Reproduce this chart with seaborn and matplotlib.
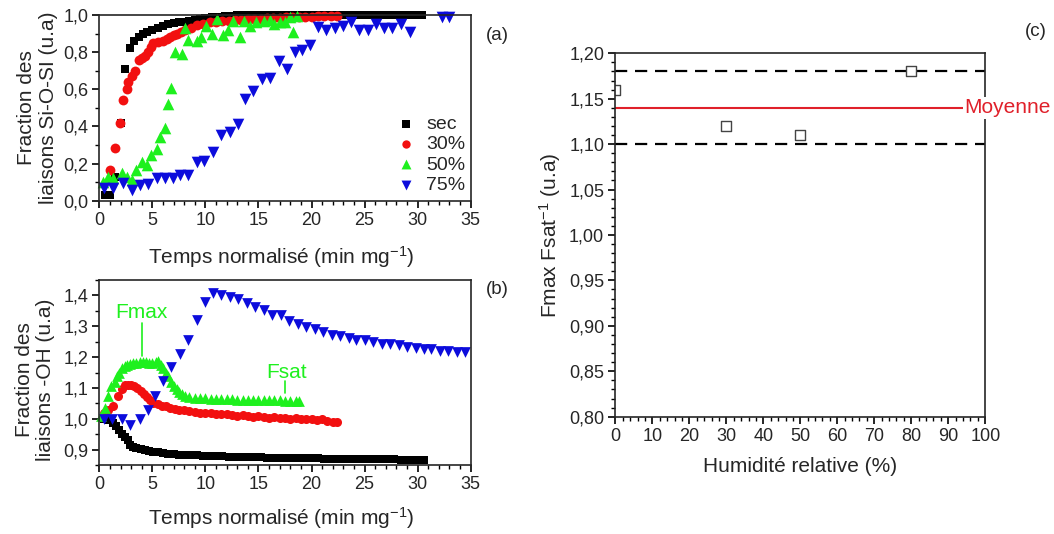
import matplotlib
matplotlib.use("Agg")
import matplotlib.pyplot as plt
from matplotlib.ticker import MultipleLocator, FuncFormatter
import seaborn as sns
import pandas as pd

# ---------------- data : panel (a) Si-O-Si fraction ----------------
sec_a_x = [0.5, 1.0, 1.5, 2.0, 2.4, 2.9, 3.3, 3.7, 4.1, 4.5,
           5.0, 5.5, 6.0, 6.5, 7.0, 7.5, 8.0, 8.5, 9.0, 9.5,
           10.0, 10.6, 11.2, 11.8, 12.4, 13.0, 13.6, 14.2, 14.8, 15.4,
           16.0, 16.6, 17.2, 17.8, 18.4, 19.0, 19.6, 20.2, 20.8, 21.4,
           22.0, 22.6, 23.2, 23.8, 24.4, 25.0, 25.6, 26.2, 26.8, 27.4,
           28.0, 28.6, 29.2, 29.8, 30.4]
sec_a_y = [0.03, 0.03, 0.13, 0.42, 0.71, 0.82, 0.86, 0.88, 0.90, 0.91,
           0.92, 0.93, 0.94, 0.95, 0.955, 0.96, 0.965, 0.97, 0.975, 0.98,
           0.985, 0.99, 0.99, 0.995, 0.995, 1.0, 1.0, 1.0, 1.0, 1.0,
           1.0, 1.0, 1.0, 1.0, 1.0, 1.0, 1.0, 1.0, 1.0, 1.0,
           1.0, 1.0, 1.0, 1.0, 1.0, 1.0, 1.0, 1.0, 1.0, 1.0,
           1.0, 1.0, 1.0, 1.0, 1.0]
h30_a_x = [1.0, 1.5, 1.95, 2.2, 2.6, 2.75, 3.05, 3.4, 3.7, 4.0,
           4.3, 4.6, 4.9, 5.1, 5.5, 6.0, 6.4, 6.7, 7.0, 7.3,
           7.7, 8.1, 8.6, 9.2, 9.8, 10.4, 11.0, 11.6, 12.2, 12.8,
           13.4, 14.0, 14.6, 15.2, 15.8, 16.4, 17.0, 17.6, 18.2, 18.8,
           19.4, 20.0, 20.6, 21.2, 21.8, 22.4]
h30_a_y = [0.165, 0.285, 0.42, 0.54, 0.60, 0.64, 0.67, 0.70, 0.76, 0.77,
           0.78, 0.80, 0.83, 0.85, 0.855, 0.86, 0.87, 0.88, 0.89, 0.90,
           0.91, 0.92, 0.93, 0.945, 0.95, 0.96, 0.965, 0.97, 0.97, 0.975,
           0.975, 0.98, 0.98, 0.98, 0.985, 0.985, 0.985, 0.99, 0.99, 0.99,
           0.99, 0.99, 0.995, 0.995, 0.995, 0.995]
h50_a_x = [0.38, 0.85, 1.3, 2.1, 2.6, 3.05, 3.5, 4.0, 4.5, 4.9,
           5.4, 5.7, 6.2, 6.5, 6.8, 7.1, 7.8, 8.1, 8.4, 9.2,
           9.6, 10.1, 10.6, 11.1, 11.7, 12.1, 12.6, 13.3, 13.6, 14.2,
           14.8, 15.5, 16.1, 16.5, 17.0, 17.5, 18.0, 18.3, 18.6]
h50_a_y = [0.10, 0.13, 0.12, 0.15, 0.13, 0.11, 0.165, 0.21, 0.19, 0.245,
           0.28, 0.345, 0.39, 0.52, 0.605, 0.80, 0.79, 0.93, 0.865, 0.86,
           0.88, 0.94, 0.90, 0.98, 0.89, 0.92, 0.97, 0.88, 0.97, 0.94,
           0.96, 0.97, 0.975, 0.95, 0.965, 0.96, 0.99, 0.91, 0.995]
h75_a_x = [0.4, 1.3, 2.26, 3.05, 3.8, 4.6, 5.4, 6.2, 6.9, 7.6,
           8.4, 9.2, 9.9, 10.75, 11.5, 12.3, 13.1, 13.7, 14.5, 15.3,
           16.1, 16.9, 17.7, 18.4, 19.1, 19.9, 20.65, 21.4, 22.2, 23.0,
           23.7, 24.5, 25.3, 26.1, 26.8, 27.6, 28.4, 29.3, 32.3, 33.0]
h75_a_y = [0.07, 0.07, 0.094, 0.06, 0.085, 0.09, 0.12, 0.12, 0.12, 0.14,
           0.14, 0.21, 0.215, 0.264, 0.354, 0.37, 0.413, 0.548, 0.59, 0.655,
           0.66, 0.75, 0.71, 0.80, 0.81, 0.84, 0.937, 0.92, 0.93, 0.94,
           0.96, 0.92, 0.92, 0.95, 0.93, 0.93, 0.95, 0.91, 0.99, 0.99]

# ---------------- data : panel (b) -OH fraction ----------------
sec_b_x = [0.4, 0.8, 1.3, 1.6, 1.9, 2.1, 2.4, 2.7, 2.9, 3.2,
           3.5, 3.9, 4.3, 4.7, 5.1, 5.5, 6.0, 6.5, 7.0, 7.5,
           8.0, 8.6, 9.2, 9.8, 10.4, 11.0, 11.6, 12.2, 12.8, 13.4,
           14.0, 14.6, 15.2, 15.8, 16.4, 17.0, 17.6, 18.2, 18.8, 19.4,
           20.0, 20.6, 21.2, 21.8, 22.4, 23.0, 23.6, 24.2, 24.8, 25.4,
           26.0, 26.6, 27.2, 27.8, 28.4, 29.0, 29.6, 30.2, 30.6]
sec_b_y = [1.0, 0.995, 0.987, 0.975, 0.962, 0.949, 0.94, 0.93, 0.916, 0.91,
           0.905, 0.902, 0.899, 0.896, 0.893, 0.891, 0.889, 0.887, 0.885, 0.884,
           0.883, 0.882, 0.881, 0.880, 0.879, 0.878, 0.878, 0.877, 0.877, 0.876,
           0.876, 0.875, 0.875, 0.874, 0.874, 0.874, 0.873, 0.873, 0.873, 0.872,
           0.872, 0.872, 0.871, 0.871, 0.871, 0.870, 0.870, 0.870, 0.869, 0.869,
           0.869, 0.868, 0.868, 0.868, 0.867, 0.867, 0.867, 0.866, 0.866]
h30_b_x = [0.4, 0.8, 1.3, 1.8, 2.1, 2.4, 2.7, 3.0, 3.3, 3.6,
           3.9, 4.2, 4.5, 4.8, 5.1, 5.5, 5.9, 6.3, 6.7, 7.1,
           7.5, 8.0, 8.5, 9.0, 9.5, 10.0, 10.5, 11.0, 11.5, 12.0,
           12.5, 13.0, 13.5, 14.0, 14.5, 15.0, 15.5, 16.0, 16.5, 17.0,
           17.5, 18.0, 18.5, 19.0, 19.5, 20.0, 20.5, 21.0, 21.5, 22.0,
           22.4]
h30_b_y = [1.02, 1.03, 1.04, 1.075, 1.095, 1.108, 1.11, 1.108, 1.105, 1.10,
           1.09, 1.08, 1.07, 1.06, 1.052, 1.047, 1.043, 1.04, 1.035, 1.032,
           1.03, 1.027, 1.025, 1.022, 1.02, 1.02, 1.018, 1.016, 1.015, 1.017,
           1.012, 1.01, 1.012, 1.008, 1.006, 1.008, 1.005, 1.004, 1.006, 1.003,
           1.002, 1.0, 1.002, 1.0, 0.998, 1.0, 0.997, 0.998, 0.993, 0.99,
           0.99]
h50_b_x = [0.2, 0.5, 0.85, 1.15, 1.45, 1.65, 1.9, 2.1, 2.4, 2.6,
           2.9, 3.2, 3.5, 3.8, 4.1, 4.4, 4.7, 5.0, 5.3, 5.5,
           5.8, 6.0, 6.3, 6.5, 6.8, 7.0, 7.3, 7.5, 7.8, 8.1,
           8.5, 9.0, 9.5, 10.0, 10.5, 11.0, 11.5, 12.0, 12.5, 13.0,
           13.5, 14.0, 14.5, 15.0, 15.5, 16.0, 16.5, 17.0, 17.5, 18.0,
           18.5, 18.8]
h50_b_y = [1.01, 1.035, 1.075, 1.105, 1.12, 1.14, 1.15, 1.165, 1.17, 1.175,
           1.178, 1.18, 1.182, 1.185, 1.185, 1.183, 1.18, 1.18, 1.183, 1.186,
           1.175, 1.165, 1.15, 1.138, 1.12, 1.105, 1.095, 1.088, 1.08, 1.074,
           1.07, 1.068, 1.067, 1.066, 1.065, 1.065, 1.064, 1.063, 1.063, 1.062,
           1.062, 1.062, 1.061, 1.061, 1.06, 1.06, 1.06, 1.06, 1.059, 1.059,
           1.058, 1.058]
h75_b_x = [0.4, 1.2, 2.1, 2.9, 3.8, 4.6, 5.25, 6.0, 6.8, 7.6,
           8.4, 9.2, 9.95, 10.75, 11.5, 12.3, 13.1, 13.9, 14.7, 15.5,
           16.3, 17.1, 17.9, 18.7, 19.5, 20.3, 21.1, 21.9, 22.7, 23.5,
           24.2, 25.0, 25.8, 26.6, 27.4, 28.2, 29.0, 29.8, 30.6, 31.3,
           32.1, 32.9, 33.7, 34.5]
h75_b_y = [1.0, 1.0, 1.0, 0.98, 1.0, 1.03, 1.073, 1.122, 1.168, 1.21,
           1.257, 1.32, 1.38, 1.409, 1.403, 1.396, 1.389, 1.376, 1.363, 1.352,
           1.338, 1.335, 1.317, 1.306, 1.298, 1.29, 1.281, 1.273, 1.268, 1.263,
           1.257, 1.254, 1.248, 1.244, 1.241, 1.238, 1.233, 1.23, 1.227, 1.225,
           1.221, 1.219, 1.218, 1.216]

# ---------------- data : panel (c) ----------------
humidity = [0, 30, 50, 80]
ratio = [1.16, 1.12, 1.11, 1.18]
ratio_mean = 1.14
ratio_low = 1.10
ratio_high = 1.18

series_labels = ["sec", "30%", "50%", "75%"]
colors = ["#000000", "#f21010", "#1ef01e", "#0c0cdc"]
markers = ["s", "o", "^", "v"]
sizes = [40, 50, 70, 70]

sns.set_style("ticks")
plt.rcParams["font.family"] = ["Liberation Sans", "DejaVu Sans"]
plt.rcParams["mathtext.default"] = "regular"
plt.rcParams["axes.linewidth"] = 1.2

TICK = 13
LAB = 15

fig = plt.figure(figsize=(10.54, 5.34), dpi=100)
axa = fig.add_axes([0.0942, 0.6242, 0.3524, 0.3477])
axb = fig.add_axes([0.0942, 0.1292, 0.3524, 0.3464])
axc = fig.add_axes([0.5838, 0.2197, 0.3510, 0.6805])

comma1 = FuncFormatter(lambda v, p: f"{v:.1f}".replace(".", ","))
comma2 = FuncFormatter(lambda v, p: f"{v:.2f}".replace(".", ","))
int_fmt = FuncFormatter(lambda v, p: f"{v:.0f}")

a_sets = [(sec_a_x, sec_a_y), (h30_a_x, h30_a_y), (h50_a_x, h50_a_y), (h75_a_x, h75_a_y)]
b_sets = [(sec_b_x, sec_b_y), (h30_b_x, h30_b_y), (h50_b_x, h50_b_y), (h75_b_x, h75_b_y)]

for (xs, ys), lab, c, m, s in zip(a_sets, series_labels, colors, markers, sizes):
    df = pd.DataFrame({"t": xs, "f": ys})
    sns.scatterplot(data=df, x="t", y="f", ax=axa, color=c, marker=m, s=s,
                    linewidth=0, label=lab, legend=False, clip_on=False, zorder=3)
for (xs, ys), lab, c, m, s in zip(b_sets, series_labels, colors, markers, sizes):
    df = pd.DataFrame({"t": xs, "f": ys})
    sns.scatterplot(data=df, x="t", y="f", ax=axb, color=c, marker=m, s=s * 0.85,
                    linewidth=0, legend=False, clip_on=False, zorder=3)

dfc = pd.DataFrame({"h": humidity, "r": ratio})
sns.scatterplot(data=dfc, x="h", y="r", ax=axc, marker="s", s=48,
                facecolor="white", edgecolor="#444444", linewidth=1.0,
                legend=False, zorder=4)
axc.axhline(ratio_high, color="black", lw=1.6, ls=(0, (5.5, 3.5)), zorder=2)
axc.axhline(ratio_low, color="black", lw=1.6, ls=(0, (5.5, 3.5)), zorder=2)
axc.axhline(ratio_mean, color="#e0202a", lw=1.5, zorder=2)
axc.text(94.4, ratio_mean, "Moyenne", color="#e0202a", fontsize=LAB, va="center",
         ha="left", clip_on=False, zorder=10,
         bbox=dict(facecolor="white", edgecolor="none", pad=1.0))

# ---- axes limits and locators ----
axa.set_xlim(0, 35)
axa.set_ylim(0, 1.0)
axa.xaxis.set_major_locator(MultipleLocator(5))
axa.xaxis.set_minor_locator(MultipleLocator(1))
axa.yaxis.set_major_locator(MultipleLocator(0.2))
axa.yaxis.set_minor_locator(MultipleLocator(0.1))
axa.yaxis.set_major_formatter(comma1)
axa.xaxis.set_major_formatter(int_fmt)

axb.set_xlim(0, 35)
axb.set_ylim(0.85, 1.45)
axb.xaxis.set_major_locator(MultipleLocator(5))
axb.xaxis.set_minor_locator(MultipleLocator(1))
axb.yaxis.set_major_locator(MultipleLocator(0.1))
axb.yaxis.set_minor_locator(MultipleLocator(0.05))
axb.yaxis.set_major_formatter(comma1)
axb.xaxis.set_major_formatter(int_fmt)

axc.set_xlim(0, 100)
axc.set_ylim(0.80, 1.20)
axc.xaxis.set_major_locator(MultipleLocator(10))
axc.xaxis.set_minor_locator(MultipleLocator(2))
axc.yaxis.set_major_locator(MultipleLocator(0.05))
axc.yaxis.set_minor_locator(MultipleLocator(0.01))
axc.yaxis.set_major_formatter(comma2)
axc.xaxis.set_major_formatter(int_fmt)

for ax in (axa, axb, axc):
    ax.tick_params(axis="both", which="major", direction="out", length=5, width=1.2,
                   labelsize=TICK, top=False, right=False, pad=3, color="black")
    ax.tick_params(axis="both", which="minor", direction="out", length=3, width=1.0,
                   top=False, right=False, bottom=True, left=True, color="black")
    for sp in ax.spines.values():
        sp.set_visible(True)
        sp.set_linewidth(1.2)
        sp.set_zorder(5)

xlab = "Temps normalisé (min mg$^{-1}$)"
axa.set_xlabel(xlab, fontsize=LAB)
axa.set_ylabel("Fraction des\nliaisons Si-O-SI (u.a)", fontsize=LAB, linespacing=1.15)
axb.set_xlabel(xlab, fontsize=LAB)
axb.set_ylabel("Fraction des\nliaisons -OH (u.a)", fontsize=LAB, linespacing=1.15)
axc.set_xlabel("Humidité relative (%)", fontsize=LAB)
axc.set_ylabel("Fmax Fsat$^{-1}$ (u.a)", fontsize=LAB)

axa.xaxis.set_label_coords(0.49, -0.235)
axa.yaxis.set_label_coords(-0.112, 0.5)
axb.xaxis.set_label_coords(0.49, -0.215)
axb.yaxis.set_label_coords(-0.118, 0.46)
axc.xaxis.set_label_coords(0.5, -0.112)
axc.yaxis.set_label_coords(-0.142, 0.5)

leg = axa.legend(loc="lower right", bbox_to_anchor=(1.012, -0.015), frameon=False,
                 fontsize=14, handletextpad=0.55, labelspacing=0.13, borderpad=0,
                 handlelength=1.0, markerscale=0.85)

# annotations (b)
axb.text(4.0, 1.345, "Fmax", color=colors[2], fontsize=LAB, ha="center", va="center")
axb.plot([4.0, 4.0], [1.311, 1.205], color=colors[2], lw=1.2)
axb.text(17.6, 1.15, "Fsat", color=colors[2], fontsize=LAB, ha="center", va="center")
axb.plot([17.5, 17.5], [1.122, 1.084], color=colors[2], lw=1.2)

fig.text(497 / 1054, 1 - 35 / 534, "(a)", fontsize=13.5, ha="center", va="center")
fig.text(497 / 1054, 1 - 289 / 534, "(b)", fontsize=13.5, ha="center", va="center")
fig.text(1036 / 1054, 1 - 32 / 534, "(c)", fontsize=13.5, ha="center", va="center")

fig.savefig("out.png", dpi=100)
